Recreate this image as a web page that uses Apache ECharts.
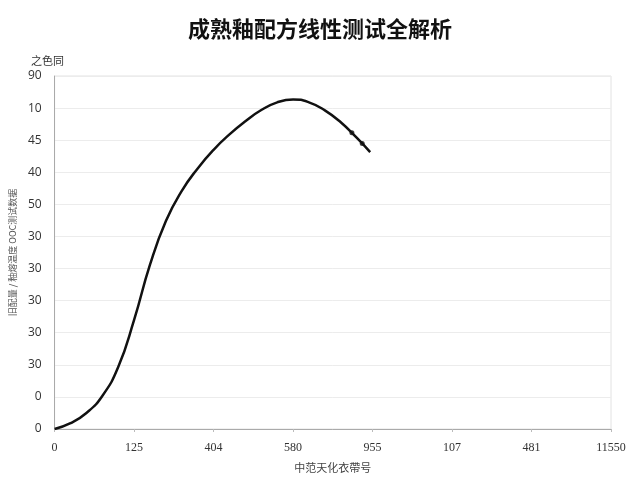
<!DOCTYPE html>
<html>
<head>
<meta charset="utf-8">
<script src="https://cdn.jsdelivr.net/npm/echarts@6/dist/echarts.min.js"></script>
<style>
  html, body { margin: 0; padding: 0; background: #fff; }
  #chart { width: 640px; height: 480px; }
</style>
</head>
<body>
<div id="chart"></div>
<script>
// tick labels as printed on the chart (bottom to top / left to right)
const yTickLabels = ['0', '0', '30', '30', '30', '30', '30', '50', '40', '45', '10', '90'];
const xTickLabels = ['0', '125', '404', '580', '955', '107', '481', '11550'];

// curve
const curveX = [0, 20, 40, 60, 80, 100, 120, 140, 160, 180, 200, 220, 240, 260, 280, 300, 320, 340, 360, 380, 397];
const curveY = [0, 1.8, 5.0, 10.3, 19.3, 34.0, 51.2, 64.8, 74.2, 81.2, 87.0, 91.8, 95.9, 99.4, 101.8, 102.7, 101.8, 99.3, 95.6, 90.8, 86.3];

// the two dots on the falling end
const markerX = [374, 387];
const markerY = [92.3, 89.0];

const chart = echarts.init(document.getElementById('chart'));

const curve = curveX.map((x, i) => [x, curveY[i]]);
const markers = markerX.map((x, i) => [x, markerY[i]]);

chart.setOption({
    animation: false,
    title: [{
        text: '成熟釉配方线性测试全解析',
        left: 'center',
        top: 13,
        textStyle: { fontSize: 22, fontWeight: 'bold', color: '#111', fontFamily: 'Noto Sans CJK SC' }
    }, {
        text: '之色同',
        left: 26,
        top: 50,
        textStyle: { fontSize: 11, fontWeight: 'normal', color: '#333', fontFamily: 'Noto Sans CJK SC' }
    }],
    grid: { left: 53, right: 29, top: 76, bottom: 51, show: true, borderColor: '#e2e2e2', borderWidth: 1 },
    xAxis: {
        type: 'value',
        min: 0,
        max: 700,
        interval: 100,
        name: '中范天化衣帶号',
        nameLocation: 'middle',
        nameGap: 33,
        nameTextStyle: { fontSize: 11, color: '#444', fontFamily: 'Noto Sans CJK SC' },
        axisLine: { lineStyle: { color: '#aaa' } },
        axisTick: { show: true, length: 3, lineStyle: { color: '#bbb' } },
        splitLine: { show: false },
        axisLabel: {
            margin: 13,
            fontSize: 12,
            color: '#333',
            fontFamily: 'Liberation Serif',
            formatter: (v) => xTickLabels[Math.round(v / 100)]
        }
    },
    yAxis: {
        type: 'value',
        min: 0,
        max: 110,
        interval: 10,
        name: '旧配量 / 釉熔温度 OOC测试数据',
        nameLocation: 'middle',
        nameRotate: 90,
        nameGap: 36,
        nameTextStyle: { fontSize: 9, color: '#555', fontFamily: 'Noto Sans CJK SC' },
        axisLine: { show: true, lineStyle: { color: '#aaa' } },
        axisTick: { show: false },
        splitLine: { lineStyle: { color: '#ececec' } },
        axisLabel: {
            margin: 13,
            fontSize: 12,
            color: '#333',
            fontFamily: 'Open Sans',
            formatter: (v) => yTickLabels[Math.round(v / 10)]
        }
    },
    series: [{
        type: 'line',
        data: curve,
        smooth: 0.5,
        smoothMonotone: 'none',
        symbol: 'none',
        lineStyle: { color: '#111', width: 2.5 }
    }, {
        type: 'scatter',
        data: markers,
        symbol: 'circle',
        symbolSize: 5,
        itemStyle: { color: '#111' }
    }]
});
</script>
</body>
</html>
